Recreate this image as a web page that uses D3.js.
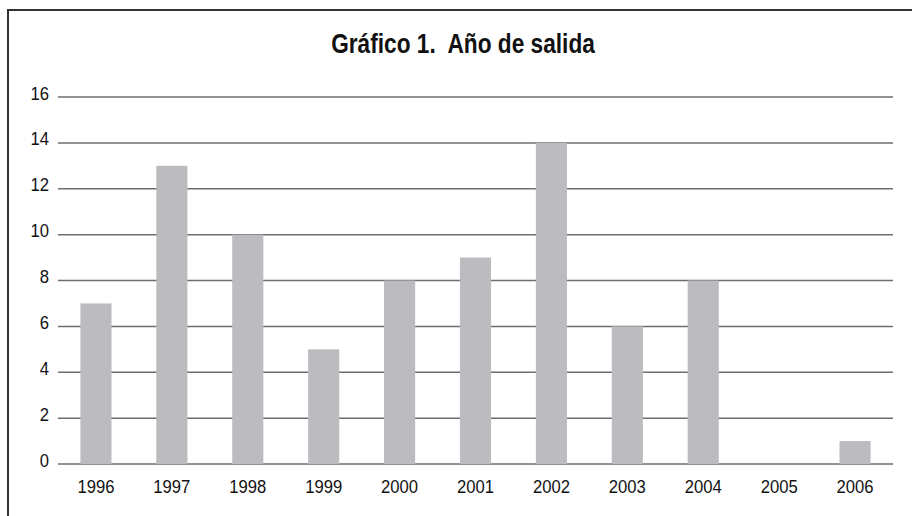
<!DOCTYPE html>
<html>
<head>
<meta charset="utf-8">
<style>
  body { margin: 0; background: #fff; }
  svg text { font-family: "Liberation Sans", Arial, sans-serif; fill: #111; white-space: pre; }
  .grid line { stroke: #6e6e6e; stroke-width: 1.5px; }
</style>
</head>
<body>
<svg id="chart"></svg>
<script src="https://cdn.jsdelivr.net/npm/d3@7"></script>
<script>
  var years = ['1996', '1997', '1998', '1999', '2000', '2001', '2002', '2003', '2004', '2005', '2006'];
  var counts = [7, 13, 10, 5, 8, 9, 14, 6, 8, 0, 1];
  var yTicks = [0, 2, 4, 6, 8, 10, 12, 14, 16];
  var title = 'Gráfico 1.  Año de salida';

  var width = 912;
  var height = 516;
  var margin = {top: 97, right: 19, bottom: 52, left: 58};

  // condensed look: squeeze text horizontally
  function squeeze(sx) {
    return (d) => 'translate(' + d[0] + ',' + d[1] + ') scale(' + sx + ',1)';
  }

  var svg = d3.select('#chart')
    .attr('width', width)
    .attr('height', height);

  // frame: left and top edge only
  svg.append('path')
    .attr('d', 'M8,516 V10 H912')
    .attr('fill', 'none')
    .attr('stroke', '#333')
    .attr('stroke-width', 2);

  var x = d3.scaleBand()
    .domain(years)
    .range([margin.left, width - margin.right])
    .paddingInner(0.59)
    .paddingOuter(0.295);

  var y = d3.scaleLinear()
    .domain([0, 16])
    .range([height - margin.bottom, margin.top]);

  svg.append('g').attr('class', 'grid')
    .selectAll('line').data(yTicks)
    .enter().append('line')
      .attr('x1', margin.left)
      .attr('x2', width - margin.right)
      .attr('y1', (d) => y(d))
      .attr('y2', (d) => y(d));

  svg.append('g')
    .selectAll('rect').data(counts)
    .enter().append('rect')
      .attr('x', (d, i) => x(years[i]))
      .attr('width', x.bandwidth())
      .attr('y', (d) => y(d))
      .attr('height', (d) => y(0) - y(d))
      .attr('fill', '#bcbcc0');

  svg.append('g')
    .selectAll('text').data(yTicks)
    .enter().append('text')
      .attr('transform', (d) => squeeze(0.9)([49, y(d) + 2.5]))
      .attr('text-anchor', 'end')
      .attr('font-size', 18.5)
      .text((d) => d);

  svg.append('g')
    .selectAll('text').data(years)
    .enter().append('text')
      .attr('transform', (d) => squeeze(0.9)([x(d) + x.bandwidth() / 2, 493]))
      .attr('text-anchor', 'middle')
      .attr('font-size', 18.5)
      .text((d) => d);

  svg.append('text')
    .attr('transform', squeeze(0.84)([463, 52.5]))
    .attr('text-anchor', 'middle')
    .attr('font-size', 27)
    .attr('font-weight', 'bold')
    .text(title);
</script>
</body>
</html>
